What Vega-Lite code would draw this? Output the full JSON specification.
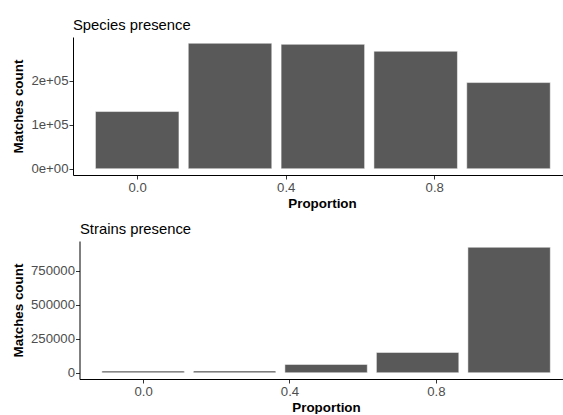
{
  "$schema": "https://vega.github.io/schema/vega-lite/v6.json",
  "padding": {"left": 11, "top": 18, "right": 0, "bottom": 0},
  "background": "white",
  "config": {
    "font": "Liberation Sans",
    "view": {"stroke": null},
    "axis": {
      "grid": false,
      "domainColor": "#000000",
      "domainWidth": 1,
      "tickColor": "#333333",
      "tickSize": 4,
      "labelColor": "#4D4D4D",
      "labelFontSize": 13.2,
      "labelFont": "Liberation Sans",
      "titleFont": "Liberation Sans",
      "titleFontSize": 13.4,
      "titleFontWeight": "bold",
      "titleColor": "#000000"
    },
    "title": {"font": "Liberation Sans", "fontSize": 14.8, "fontWeight": "normal", "color": "#000000", "anchor": "start", "frame": "group", "offset": 4}
  },
  "vconcat": [
    {
      "title": "Species presence",
      "width": 489.5,
      "height": 138,
      "data": {"values": [
        {"proportion": 0.0, "count": 129600},
        {"proportion": 0.25, "count": 284400},
        {"proportion": 0.5, "count": 282000},
        {"proportion": 0.75, "count": 266300},
        {"proportion": 1.0, "count": 195300}
      ]},
      "mark": {"type": "bar", "width": 83.5, "color": "#595959", "stroke": "#ffffff", "strokeWidth": 0.5},
      "encoding": {
        "x": {"field": "proportion", "type": "quantitative", "title": "Proportion",
          "scale": {"domain": [-0.1729, 1.1454], "nice": false, "zero": false, "padding": 0},
          "axis": {"values": [0, 0.4, 0.8], "format": ".1f", "labelPadding": 2, "titlePadding": 3, "titleX": 249}},
        "y": {"field": "count", "type": "quantitative", "title": "Matches count",
          "scale": {"domain": [-14220, 298620], "nice": false, "zero": false},
          "axis": {"values": [0, 100000, 200000], "labelExpr": "datum.value == 0 ? '0e+00' : format(datum.value/100000, 'd') + 'e+05'", "labelPadding": 1, "titlePadding": 5}}
      }
    },
    {
      "title": {"text": "Strains presence", "dx": 7},
      "width": 489.5,
      "height": 138,
      "data": {"values": [
        {"proportion": 0.0, "count": 12000},
        {"proportion": 0.25, "count": 13000},
        {"proportion": 0.5, "count": 61000},
        {"proportion": 0.75, "count": 149000},
        {"proportion": 1.0, "count": 921000}
      ]},
      "mark": {"type": "bar", "width": 82.4, "color": "#595959", "stroke": "#ffffff", "strokeWidth": 0.5},
      "encoding": {
        "x": {"field": "proportion", "type": "quantitative", "title": "Proportion",
          "scale": {"domain": [-0.1915, 1.1459], "nice": false, "zero": false, "padding": 0},
          "axis": {"values": [0, 0.4, 0.8], "format": ".1f", "labelPadding": 2, "titlePadding": 3, "titleX": 253, "domainDash": [0, 6.5, 1000, 0]}},
        "y": {"field": "count", "type": "quantitative", "title": "Matches count",
          "scale": {"domain": [-46050, 967050], "nice": false, "zero": false},
          "axis": {"values": [0, 250000, 500000, 750000], "format": "d", "labelPadding": 1, "titlePadding": 5, "offset": -6.5}}
      }
    }
  ],
  "spacing": 12
}
